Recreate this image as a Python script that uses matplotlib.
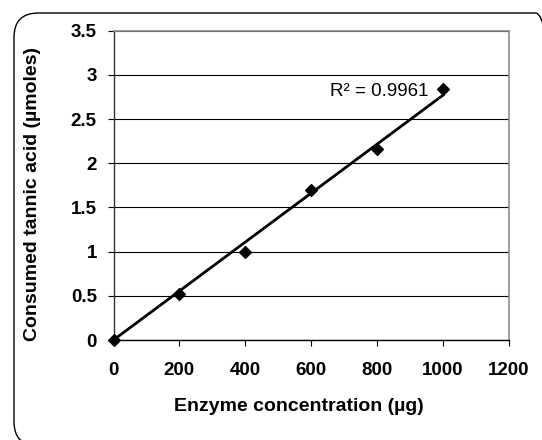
import numpy as np
import matplotlib
matplotlib.use('Agg')
import matplotlib.pyplot as plt
from matplotlib.patches import FancyBboxPatch

plt.rcParams['font.family'] = ['Liberation Sans', 'DejaVu Sans']

enzyme = [0, 200, 400, 600, 800, 1000]
tannic = [0, 0.52, 1.0, 1.70, 2.16, 2.84]
x_ticks = [0, 200, 400, 600, 800, 1000, 1200]
y_ticks = [0, 0.5, 1, 1.5, 2, 2.5, 3, 3.5]
r2_label = 'R² = 0.9961'

W, H = 542, 440
fig = plt.figure(figsize=(W / 100, H / 100), dpi=100)

# rounded chart-area border, partly running off the right/bottom edges
box = FancyBboxPatch((14 / W, -6 / H), 560 / W - 14 / W, (H - 13 + 6) / H,
                     boxstyle='round,pad=0,rounding_size=0.045',
                     transform=fig.transFigure, fill=False, ec='black', lw=1.0,
                     mutation_aspect=W / H, clip_on=False)
fig.patches.append(box)

ax = fig.add_axes([113.5 / W, 100 / H, 395.2 / W, 309.3 / H])

ax.scatter(enzyme, tannic, marker='D', s=36, color='black', zorder=4, clip_on=False)
# linear trendline through the origin (Excel "set intercept = 0")
xa, ya = np.array(enzyme, float), np.array(tannic, float)
slope = (xa * ya).sum() / (xa * xa).sum()
ax.plot(xa[[0, -1]], slope * xa[[0, -1]], color='black', lw=2.0, zorder=3)

ax.set_xlim(0, 1200)
ax.set_ylim(0, 3.5)
ax.set_xticks(x_ticks)
ax.set_yticks(y_ticks)
ax.set_xticklabels([str(t) for t in x_ticks], fontweight='bold', fontsize=13.5)
ax.set_yticklabels([f'{t:g}' for t in y_ticks], fontweight='bold', fontsize=13.5)
ax.tick_params(axis='x', direction='out', length=4, width=0.8, pad=12)
ax.tick_params(axis='y', direction='out', length=4, width=0.8, pad=8)

ax.yaxis.grid(True, color='black', lw=0.8)
ax.set_axisbelow(True)
for side in ['top', 'right']:
    ax.spines[side].set_color('#8c8c8c')
    ax.spines[side].set_linewidth(1.2)
ax.spines['left'].set_color('#333333')
ax.spines['bottom'].set_color('black')
ax.spines['left'].set_linewidth(1.0)
ax.spines['bottom'].set_linewidth(1.0)

ax.text(657, 2.81, r2_label, fontsize=13.5, ha='left', va='center')

fig.text(299 / W, 1 - 406 / H, 'Enzyme concentration (µg)', fontsize=14,
         fontweight='bold', ha='center', va='center')
fig.text(33 / W, 1 - 194 / H, 'Consumed tannic acid (µmoles)', fontsize=14,
         fontweight='bold', ha='center', va='center', rotation=90)

fig.savefig('out.png', dpi=100)
